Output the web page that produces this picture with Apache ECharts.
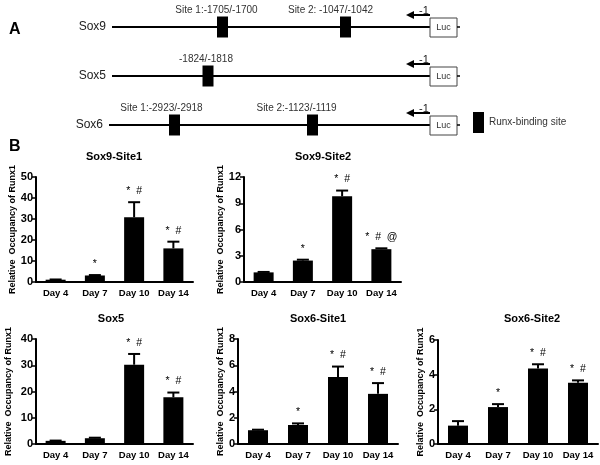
<!DOCTYPE html>
<html><head><meta charset="utf-8">
<script src="https://cdn.jsdelivr.net/npm/echarts@6/dist/echarts.min.js"></script>
<style>html,body{margin:0;padding:0;background:#fff}#c{width:600px;height:465px}</style>
</head><body><div id="c"></div>
<script>
// ---------- data ----------
const days = ['Day 4', 'Day 7', 'Day 10', 'Day 14'];
const yAxisName = 'Relative  Occupancy of Runx1';
const panelTitles = ['Sox9-Site1', 'Sox9-Site2', 'Sox5', 'Sox6-Site1', 'Sox6-Site2'];

const sox9Site1Mean = [1.1, 3.1, 30.8, 16.0];
const sox9Site1Err  = [0.1, 0.2, 7.2, 3.2];
const sox9Site1Sig  = ['', '*', '*  #', '*  #'];

const sox9Site2Mean = [1.1, 2.45, 9.8, 3.75];
const sox9Site2Err  = [0.05, 0.1, 0.65, 0.1];
const sox9Site2Sig  = ['', '*', '*  #', '*  #  @'];

const sox5Mean = [1.2, 2.2, 30.2, 17.8];
const sox5Err  = [0.1, 0.2, 4.1, 1.8];
const sox5Sig  = ['', '', '*  #', '*  #'];

const sox6Site1Mean = [1.05, 1.45, 5.1, 3.82];
const sox6Site1Err  = [0.04, 0.12, 0.8, 0.82];
const sox6Site1Sig  = ['', '*', '*  #', '*  #'];

const sox6Site2Mean = [1.06, 2.13, 4.35, 3.54];
const sox6Site2Err  = [0.26, 0.17, 0.25, 0.13];
const sox6Site2Sig  = ['', '*', '*  #', '*  #'];

const yMaxes = [50, 12, 40, 8, 6];
const yIntervals = [10, 3, 10, 2, 2];

// Panel A (promoter schematic)
const genes = ['Sox9', 'Sox5', 'Sox6'];
const siteGene = [0, 0, 1, 2, 2];
const siteLabels = ['Site 1:-1705/-1700', 'Site 2: -1047/-1042', '-1824/-1818', 'Site 1:-2923/-2918', 'Site 2:-1123/-1119'];
const sitePos = [222.5, 345.5, 208, 174.5, 312.5];   // schematic positions along the promoter
const tssLabel = '-1';
const reporterLabel = 'Luc';
const legendLabel = 'Runx-binding site';

// ---------- layout ----------
const SANS = '"Liberation Sans", Arial, sans-serif';
const panels = [
  {mean: sox9Site1Mean, err: sox9Site1Err, sig: sox9Site1Sig, grid: {left: 36, top: 177, width: 157, height: 105}, nameGap: 19, tx: 109, ty: 146},
  {mean: sox9Site2Mean, err: sox9Site2Err, sig: sox9Site2Sig, grid: {left: 244, top: 177, width: 157, height: 105}, nameGap: 18, tx: 318, ty: 146},
  {mean: sox5Mean, err: sox5Err, sig: sox5Sig, grid: {left: 36, top: 339, width: 157, height: 105}, nameGap: 23, tx: 106, ty: 308},
  {mean: sox6Site1Mean, err: sox6Site1Err, sig: sox6Site1Sig, grid: {left: 238, top: 339, width: 160, height: 105}, nameGap: 13, tx: 313, ty: 308},
  {mean: sox6Site2Mean, err: sox6Site2Err, sig: sox6Site2Sig, grid: {left: 438, top: 340, width: 160, height: 104}, nameGap: 13, tx: 527, ty: 308}
];
const lineStart = [112, 112, 109];
const lineEnd = 430;
const siteLabelDx = [-6, -15, -2, -13, -16];

const chart = echarts.init(document.getElementById('c'), null, {renderer: 'canvas'});

const grids = [], xAxes = [], yAxes = [], series = [], titles = [];

panels.forEach((p, i) => {
  grids.push(Object.assign({containLabel: false}, p.grid));
  titles.push({text: panelTitles[i], left: p.tx, top: p.ty, textAlign: 'center',
    textStyle: {fontFamily: SANS, fontSize: 11, fontWeight: 'bold', color: '#000'}});
  xAxes.push({type: 'category', gridIndex: i, data: days,
    axisLine: {lineStyle: {color: '#000', width: 2}}, axisTick: {show: false},
    axisLabel: {interval: 0, color: '#000', fontSize: 9.5, fontWeight: 'bold', fontFamily: SANS, margin: 6}});
  yAxes.push({type: 'value', gridIndex: i, min: 0, max: yMaxes[i], interval: yIntervals[i],
    name: yAxisName, nameLocation: 'middle', nameGap: p.nameGap,
    nameTextStyle: {color: '#000', fontSize: 9, fontWeight: 'bold', fontFamily: SANS},
    axisLine: {show: true, lineStyle: {color: '#000', width: 2}},
    axisTick: {show: true, length: 4, lineStyle: {color: '#000', width: 1.5}},
    axisLabel: {color: '#000', fontSize: 11, fontWeight: 'bold', fontFamily: SANS, margin: 3},
    splitLine: {show: false}});
  series.push({type: 'bar', xAxisIndex: i, yAxisIndex: i, data: p.mean, barWidth: 20,
    itemStyle: {color: '#000'}, silent: true, animation: false});
  const sig = p.sig;
  series.push({type: 'custom', xAxisIndex: i, yAxisIndex: i, animation: false, silent: true,
    data: p.mean.map((m, j) => [j, m, m + p.err[j]]),
    renderItem: (params, api) => {
      const j = api.value(0);
      const base = api.coord([j, api.value(1)]);
      const tip = api.coord([j, api.value(2)]);
      const children = [
        {type: 'line', shape: {x1: base[0], y1: base[1], x2: tip[0], y2: tip[1]}, style: {stroke: '#000', lineWidth: 2}},
        {type: 'line', shape: {x1: tip[0] - 6, y1: tip[1], x2: tip[0] + 6, y2: tip[1]}, style: {stroke: '#000', lineWidth: 2}}
      ];
      if (sig[j]) children.push({type: 'text', x: tip[0], y: tip[1] - 11,
        style: {text: sig[j], textAlign: 'center', textVerticalAlign: 'middle', fontSize: 10.5, fontFamily: SANS, fill: '#000'}});
      return {type: 'group', children};
    }});
});

// Panel A grid (schematic coordinate system)
const dIdx = panels.length;
grids.push({left: 0, right: 0, top: 2.5, height: 147});
xAxes.push({type: 'value', gridIndex: dIdx, min: 0, max: 600, show: false});
yAxes.push({type: 'category', gridIndex: dIdx, data: genes, inverse: true, show: false});

series.push({type: 'custom', name: 'promoter', xAxisIndex: dIdx, yAxisIndex: dIdx, animation: false, silent: true,
  data: genes.map((g, k) => [lineStart[k], k]),
  renderItem: (params, api) => {
    const k = api.value(1);
    const s = api.coord([api.value(0), k]);
    const e = api.coord([lineEnd, k]);
    const y = s[1];
    const ay = y - 12;
    return {type: 'group', children: [
      {type: 'line', shape: {x1: s[0], y1: y, x2: e[0], y2: y}, style: {stroke: '#000', lineWidth: 2}},
      {type: 'text', x: s[0] - 6, y: y, style: {text: genes[k], textAlign: 'right', textVerticalAlign: 'middle', fontSize: 12, fontFamily: SANS, fill: '#222'}},
      {type: 'line', shape: {x1: e[0], y1: ay, x2: e[0] - 17, y2: ay}, style: {stroke: '#000', lineWidth: 2}},
      {type: 'polygon', shape: {points: [[e[0] - 24, ay], [e[0] - 16, ay - 4], [e[0] - 16, ay + 4]]}, style: {fill: '#000'}},
      {type: 'text', x: e[0] - 6, y: y - 16, style: {text: tssLabel, textAlign: 'center', textVerticalAlign: 'middle', fontSize: 11, fontFamily: SANS, fill: '#222'}},
      {type: 'rect', shape: {x: e[0], y: y - 9, width: 27, height: 19}, style: {fill: '#fff', stroke: '#444', lineWidth: 1}},
      {type: 'text', x: e[0] + 13.5, y: y + 0.5, style: {text: reporterLabel, textAlign: 'center', textVerticalAlign: 'middle', fontSize: 9, fontFamily: SANS, fill: '#333'}},
      {type: 'line', shape: {x1: e[0] + 27, y1: y, x2: e[0] + 30, y2: y}, style: {stroke: '#000', lineWidth: 1.5}}
    ]};
  }});

series.push({type: 'custom', name: legendLabel, xAxisIndex: dIdx, yAxisIndex: dIdx, animation: false, silent: true,
  itemStyle: {color: '#000'},
  data: sitePos.map((x, n) => [x, siteGene[n], n]),
  renderItem: (params, api) => {
    const n = api.value(2);
    const c = api.coord([api.value(0), api.value(1)]);
    return {type: 'group', children: [
      {type: 'rect', shape: {x: c[0] - 5.5, y: c[1] - 10.5, width: 11, height: 21}, style: {fill: '#000'}},
      {type: 'text', x: c[0] + siteLabelDx[n], y: c[1] - 17, style: {text: siteLabels[n], textAlign: 'center', textVerticalAlign: 'middle', fontSize: 10, fontFamily: SANS, fill: '#333'}}
    ]};
  }});

titles.push({text: 'A', left: 4, top: 17, textStyle: {fontFamily: SANS, fontSize: 16, fontWeight: 'bold', color: '#000'}});
titles.push({text: 'B', left: 4, top: 134, textStyle: {fontFamily: SANS, fontSize: 16, fontWeight: 'bold', color: '#000'}});

chart.setOption({
  animation: false,
  backgroundColor: '#fff',
  title: titles,
  legend: {data: [legendLabel], left: 468, top: 107, icon: 'rect', itemWidth: 11, itemHeight: 21,
    selectedMode: false, textStyle: {fontSize: 10, fontFamily: SANS, color: '#333'}},
  grid: grids, xAxis: xAxes, yAxis: yAxes, series
});
</script></body></html>
